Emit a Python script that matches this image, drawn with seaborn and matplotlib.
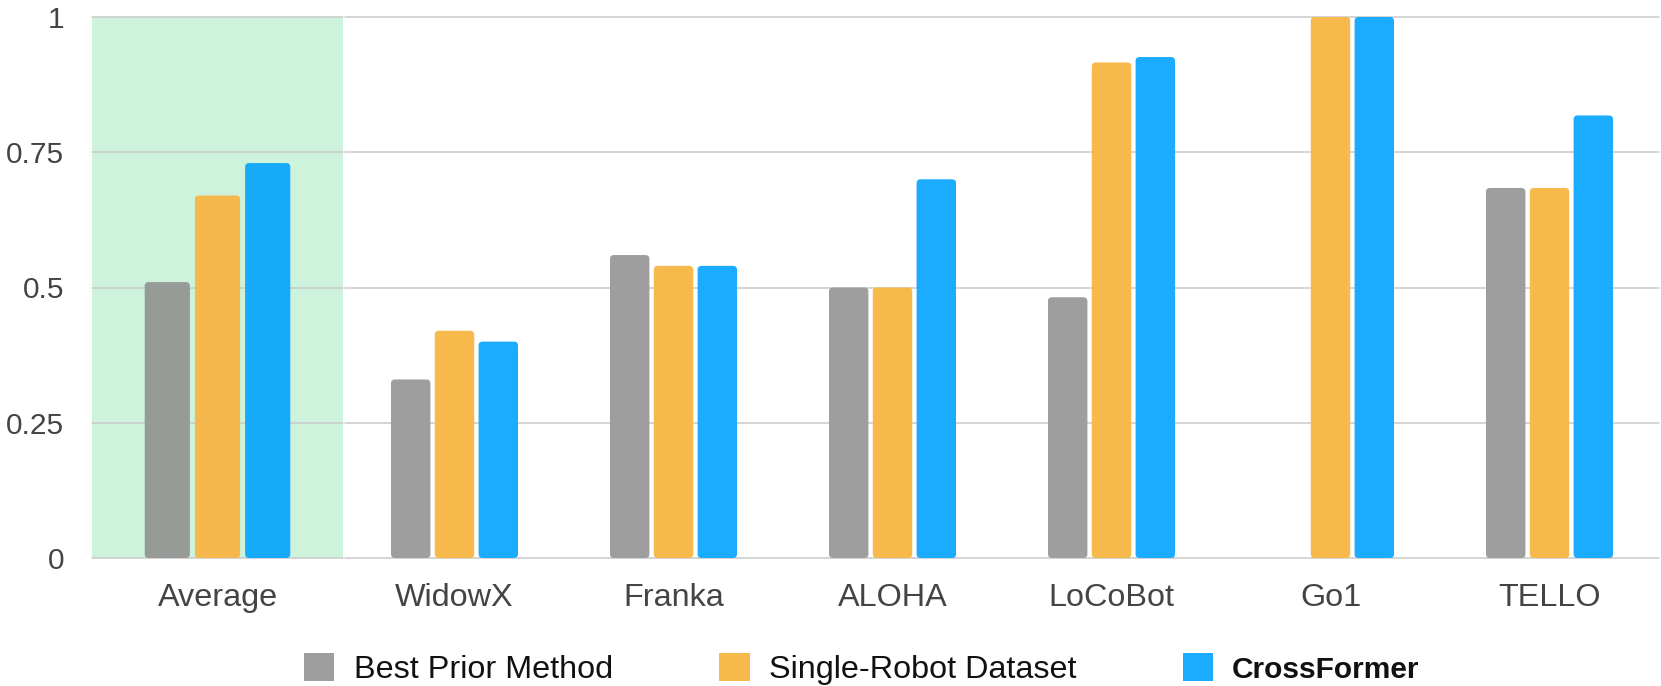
import numpy as np
import pandas as pd
import matplotlib
matplotlib.use("Agg")
import matplotlib.pyplot as plt
import seaborn as sns
from matplotlib.patches import FancyBboxPatch, Patch

categories = ["Average", "WidowX", "Franka", "ALOHA", "LoCoBot", "Go1", "TELLO"]
series_names = ["Best Prior Method", "Single-Robot Dataset", "CrossFormer"]
best_prior = [0.51, 0.33, 0.56, 0.50, 0.482, np.nan, 0.684]
single_robot = [0.67, 0.42, 0.54, 0.50, 0.916, 1.0, 0.684]
crossformer = [0.73, 0.40, 0.54, 0.70, 0.926, 1.0, 0.818]
y_ticks = [0, 0.25, 0.5, 0.75, 1]
y_tick_labels = ["0", "0.25", "0.5", "0.75", "1"]

colors = ["#9E9E9E", "#F7B84C", "#1BACFF"]
colors_avg = ["#979B97", "#F6B84C", "#17AAF9"]

rows = []
for name, vals in zip(series_names, [best_prior, single_robot, crossformer]):
    for c, v in zip(categories, vals):
        rows.append({"robot": c, "method": name, "success": v})
df = pd.DataFrame(rows)
df_avg = df[df.robot == "Average"]
df_rest = df[df.robot != "Average"]

sns.set_theme(style="white")
plt.rcParams["font.family"] = ["Liberation Sans", "DejaVu Sans"]

W, H = 1661, 686
fig = plt.figure(figsize=(W / 100, H / 100), dpi=100)
bottom = 1 - 558 / H
height = (558 - 17) / H
ax1 = fig.add_axes([92 / W, bottom, (343 - 92) / W, height])
ax2 = fig.add_axes([345 / W, bottom, (1659 - 345) / W, height])

sns.barplot(data=df_avg, x="robot", y="success", hue="method", hue_order=series_names,
            order=["Average"], palette=colors_avg, width=0.6, gap=0.1, ax=ax1,
            legend=False, linewidth=0, saturation=1)
sns.barplot(data=df_rest, x="robot", y="success", hue="method", hue_order=series_names,
            order=categories[1:], palette=colors, width=0.6, gap=0.1, ax=ax2,
            legend=False, linewidth=0, saturation=1)

ax1.set_facecolor("#CDF3DD")
for ax, xl in [(ax1, (-0.5, 0.5)), (ax2, (-0.5, 5.5))]:
    ax.set_xlim(*xl)
    ax.set_ylim(0, 1)
    ax.set_xlabel("")
    ax.set_ylabel("")
    for s in ax.spines.values():
        s.set_visible(False)
    ax.set_yticks(y_ticks)
    ax.yaxis.grid(True, color="#C9C9C9", linewidth=1.1)
    for gl in ax.get_ygridlines():
        gl.set_clip_on(False)
    ax.set_axisbelow(True)
    ax.tick_params(axis="both", length=0, labelcolor="#444444")
    ax.tick_params(axis="x", pad=18, labelsize=23.3)
    ax.tick_params(axis="y", labelsize=21.5)
ax1.set_yticklabels(y_tick_labels)
ax1.tick_params(axis="y", pad=20)
ax2.set_yticklabels([])

fig.canvas.draw()

def round_bars(ax, px):
    bb = ax.get_window_extent()
    x0, x1 = ax.get_xlim()
    y0, y1 = ax.get_ylim()
    xdpp = (x1 - x0) / bb.width
    ydpp = (y1 - y0) / bb.height
    for p in list(ax.patches):
        x, y = p.get_x(), p.get_y()
        w, h = p.get_width(), p.get_height()
        if not np.isfinite(h) or h <= 0:
            p.remove()
            continue
        fc = p.get_facecolor()
        z = p.get_zorder()
        p.remove()
        fb = FancyBboxPatch((x, y), w, h,
                            boxstyle=f"round,pad=0,rounding_size={px * xdpp}",
                            mutation_aspect=ydpp / xdpp, facecolor=fc,
                            edgecolor="none", linewidth=0, zorder=z)
        ax.add_patch(fb)

round_bars(ax1, 4)
round_bars(ax2, 4)

handles = [Patch(facecolor=c, edgecolor="none") for c in colors]
leg = fig.legend(handles, series_names, loc="center",
                 bbox_to_anchor=(862 / W, 1 - 669 / H), ncol=3, frameon=False,
                 fontsize=23.3, handlelength=0.93, handleheight=0.93,
                 handletextpad=0.59, columnspacing=3.3)
for t in leg.get_texts():
    t.set_color("#111111")
leg.get_texts()[2].set_fontweight("bold")
leg.get_texts()[2].set_fontsize(21.5)

fig.savefig("out.png", dpi=100)
